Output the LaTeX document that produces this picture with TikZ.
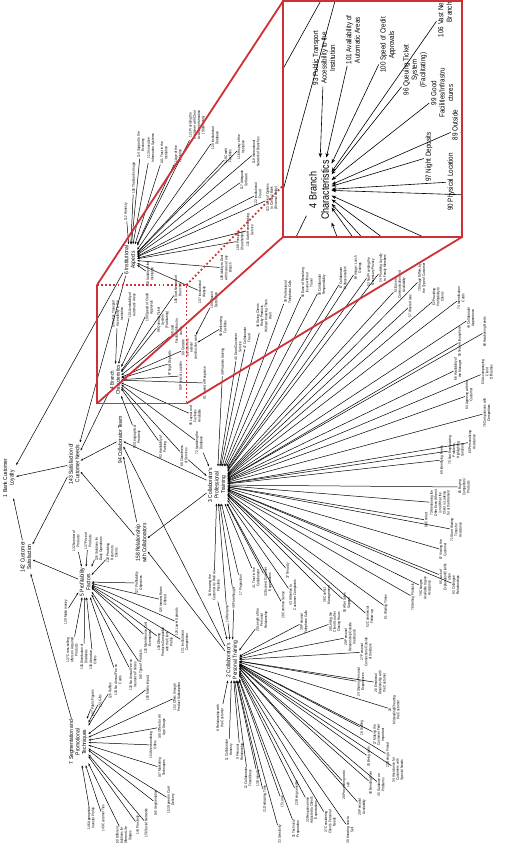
\documentclass[tikz,border=0pt]{standalone}
\usepackage{fontspec}
\setmainfont{Liberation Sans}[FakeStretch=0.85]
\usetikzlibrary{arrows.meta}
\definecolor{zoomred}{RGB}{206,48,54}
\newcommand\lfnt{\fontsize{3.7}{4.2}\selectfont}
\newcommand\hfnt{\fontsize{5.8}{6.5}\selectfont}
\newcommand\hfntb{\fontsize{5.3}{6.1}\selectfont}
\def\arrlen{2.6pt}\def\arrwid{1.9pt}
\tikzset{
 leaf/.style={rotate=90, align=center, font=\lfnt, inner sep=0.5pt},
 hub/.style={rotate=90, align=center, font=\hfnt, inner sep=1pt},
 arr/.style={-{Stealth[length=\arrlen,width=\arrwid]}, black},
 redline/.style={draw=zoomred, line width=1.8pt},
 reddot/.style={draw=zoomred, line width=1.8pt, dash pattern=on 1.8pt off 2.3pt},
}
\newcommand\leafto[5]{\node[leaf] (#1) at (#2,#3) {#4}; \draw[arr] (#1) -- (#5);}
\newcommand\leaftwo[6]{\node[leaf] (#1) at (#2,#3) {#4}; \draw[arr] (#1) -- (#5); \draw[arr] (#1) -- (#6);}
\newcommand\fulldiagram{%
\node[hub] (h1) at (9,478) {1 Bank Customer\\Loyalty};
\node[hub] (h142) at (26,557) {142 Customer\\Satisfaction};
\node[hub] (h143) at (74,464) {143 Satisfaction of\\Customer Needs};
\node[hub] (h94) at (120,440) {94 Collaborator Team};
\node[hub, font=\hfntb] (h4) at (115,380) {4 Branch\\Characteristics};
\node[hub] (h3) at (217,485) {3 Collaborator's\\Professional\\Training};
\node[hub] (h158) at (141,543) {158 Relationship\\with Collaborators};
\node[hub] (h5) at (85,582) {5 Profitability\\Factors};
\node[hub] (h7) at (78,742) {7 Segmentation and\\Promotional\\Techniques};
\node[hub] (h2) at (232,660) {2 Collaborator's\\Personal Training};
\node[hub] (h6) at (130,260) {6 Institutional\\Aspects};
\draw[arr] (h142) -- (h1);
\draw[arr] (h143) -- (h1);
\draw[arr] (h143) -- (h142);
\draw[arr] (h4) -- (h143);
\draw[arr] (h94) -- (h143);
\draw[arr] (h158) -- (h143);
\draw[arr] (h6) -- (h143);
\draw[arr] (h6) -- (h1);
\draw[arr] (h3) -- (h94);
\draw[arr] (h3) -- (h158);
\draw[arr] (h158) -- (h94);
\draw[arr] (h2) -- (h94);
\draw[arr] (h2) -- (h158);
\draw[arr] (h5) -- (h142);
\draw[arr] (h7) -- (h142);
% institutional aspects
\leafto{l112}{126}{212}{112 Honesty}{h6}
\leafto{l105}{134}{178}{105 The Bank's Image}{h6}
\leafto{l114}{141}{145}{114 Support to the\\Economy}{h6}
\leafto{l113}{151}{148}{113 Innovative\\Information Systems}{h6}
\leafto{l141}{164}{153}{141 Trust in the\\Institution}{h6}
\leafto{l111}{178}{156}{111 Age of the\\Institution}{h6}
\leafto{l121}{197}{125}{121 Providing the\\Customer with Clear\\Accurate Information\\(Statements)}{h6}
\leafto{l120}{215}{138}{120 Institutional\\Database}{h6}
\leafto{l119}{228}{156}{119 Credit\\Facilities}{h6}
\leafto{l116}{241}{147}{116 History of the\\Institution}{h6}
\leafto{l117}{244}{180}{117 Adequate\\Software}{h6}
\leafto{l118}{256}{152}{118 International\\Network of Branches}{h6}
\leafto{l122}{258}{194}{122 Institutional\\Fraud}{h6}
\leafto{l123}{272}{198}{123 Lack of Options\\to Contact Bank\\(External Entity)}{h6}
\leafto{l115}{250}{230}{115 Safe Homebanking\\Service}{h6}
\leafto{l108}{240}{241}{108 Principal\\Shareholders}{h6}
\leafto{l109}{226}{268}{109 Ability to Deal\\with Issues at any\\Branch}{h6}
\leafto{l107}{202}{292}{107 Institutional\\Website}{h6}
\leafto{l110}{150}{274}{110 Solidity of the\\Institution}{h6}
% branch characteristics
\leafto{l93}{117.5}{314}{93 Public Transport\\Accessibility to the\\Institution}{h4}
\leafto{l101}{132}{305}{101 Availability of\\Automatic Areas}{h4}
\leafto{l100}{149.5}{307.5}{100 Speed of Credit\\Approvals}{h4}
\leafto{l96}{163}{320}{96 Queuing Ticket\\System\\(Facilitating)}{h4}
\leafto{l99}{176.5}{331.5}{99 Good\\Facilities/Infrastru\\ctures}{h4}
\leafto{l106}{178}{289.5}{106 Vast Network of\\Branches}{h4}
\leafto{l97}{170}{363.5}{97 Night Deposits}{h4}
\leafto{l89}{189.3}{347.5}{89 Outside\\environment,\\exterior\\construction work}{h4}
\leafto{l90}{181}{376}{90 Physical Location}{h4}
\leafto{l91}{205}{383}{91 Speed of Response}{h4}
\leafto{l95}{195}{416}{95 Layout and\\Facilities\\Available}{h4}
\leaftwo{l72}{199}{443}{72 Updating the\\Database}{h4}{h3}
\leaftwo{l88}{184}{456}{88 Cleanliness\\of Services}{h4}{h3}
\leafto{l82}{163}{447}{82 Availability of\\Parking}{h4}
\leafto{l92}{137}{437}{92 Geographical\\Proximity}{h4}
\leafto{l98}{223}{327}{98 Welcoming\\Facilities}{l89}
\leafto{l104}{214}{300}{104 Branch\\Decoration}{l89}
% professional training
\leafto{l49}{223}{362}{49 Problem Solving}{h3}
\leafto{l45}{238}{347}{45 Good Customer\\Service}{h3}
\leafto{l47}{247}{338}{47 Collaborator\\Fraud}{h3}
\leafto{l46}{264}{316}{46 Giving Clients\\Risky Products\\Without Knowing Them\\Well}{h3}
\leafto{l59}{288}{292}{59 Professional\\Telephone Calls}{h3}
\leafto{l56}{307}{283}{56 Ease of Resolving\\Issues without\\Travel}{h3}
\leafto{l58}{322}{285}{58 Collaborator\\Responsibility}{h3}
\leafto{l67}{343}{278}{67 Collaborator\\Professionalism}{h3}
\leafto{l64}{358}{268}{64 Image: Lunch\\Outings}{h3}
\leafto{l53}{371}{272}{53 Not Providing the\\Necessary Privacy}{h3}
\leafto{l54}{383}{268}{54 Providing Loyalty\\to Family Members}{h3}
\leafto{l61}{400}{285}{61 Ease of\\Communication and\\Availability}{h3}
\leafto{l57}{410}{306}{57 Waste Areas}{h3}
\leafto{l70}{422}{278}{70 Image Differs by\\the Type of Customer}{h3}
\leafto{l62}{438}{297}{62 Providing\\Profitability to\\Clients}{h3}
\leafto{l74}{461}{298}{74 Identification\\Cards}{h3}
\leafto{l44}{471}{318}{44 Collaborator\\Appearance}{h3}
\leafto{l55}{460}{342}{55 Team Atmosphere}{h3}
\leafto{l68}{485}{332}{68 Awakening Needs}{h3}
\leafto{l66}{458}{369}{66 Availability of\\the Manager}{h3}
\leafto{l63}{487}{372}{63 Accompanying\\Client\\Difficulties}{h3}
\leafto{l84}{469}{395}{84 Agreeing with the\\Customer}{h3}
\leafto{l76}{487}{413}{76 Comparisons with\\Competitors}{h3}
\leafto{l60}{472}{442}{60 Personalizing\\Assistance}{h3}
\leafto{l75}{456}{450}{75 Not Emphasizing\\Problems,\\Highlighting\\Solutions}{h3}
\leafto{l69}{442}{460}{69 Identifying Needs}{h3}
\leafto{l65}{464}{487}{65 Buying\\Competitors'\\Products}{h3}
\leafto{l73}{440}{503}{73 Mentioning the\\Offer Even When it\\is not What the\\Client is Looking\\for at the Moment}{h3}
\leafto{l80}{426}{520}{80 Contact}{h3}
\leafto{l71}{456}{530}{71 Short Waiting\\Times for\\Assistance}{h3}
\leafto{l87}{443}{550}{87 Visiting the\\Customer}{h3}
\leafto{l85}{445}{577}{85 Lack of\\Explanation/Clarific\\ation}{h3}
\leafto{l83}{456}{585}{83 Colleague\\Relationships}{h3}
\leafto{l79}{425}{588}{79 Changes\\Available to give\\Assistance}{h3}
\leafto{l78}{413}{597}{78 Selling Products}{h3}
\leafto{l81}{386}{607}{81 Waiting Times}{h3}
\leafto{l52}{370}{617}{52 Commercial\\Follow-up}{h3}
\leafto{l50}{347}{603}{50 After Sales\\Support}{h3}
\leafto{l36}{327}{595}{36 Conflict\\Management}{h3}
\leafto{l43}{293}{595}{43 Attention to\\Customer Complaints}{h3}
\leafto{l28}{283}{605}{28 Common Sense}{h3}
\leafto{l37}{288}{571}{37 Tenacity}{h3}
\leafto{l42}{268}{582}{42 Exceed Customer\\Expectations}{h3}
\leafto{l41}{256}{578}{41 Trust in the\\Collaborator}{h3}
\leafto{l17}{241}{585}{17 Proposition}{h3}
\leaftwo{l40}{234}{598}{40 Forethought}{h3}{h2}
\leaftwo{l10}{214}{586}{10 Knowing the\\Customer As Well As\\Possible}{h3}{h2}
\leaftwo{l14}{227}{614}{14 Welcome}{h3}{h2}
% personal training
\leafto{l20}{262}{620}{20 Length of the\\Personal\\Relationship}{h2}
\leafto{l39}{304}{622}{39 Personal\\Telephone Calls}{h2}
\leafto{l38}{335}{622}{38 Letting the\\Client Go after\\Closing Hours}{h2}
\leafto{l29}{350}{637}{29 Personal\\Relationship Outside\\the Branch}{h2}
\leafto{l27b}{366}{652}{27 Personal\\Connections Outside\\of the Bank}{h2}
\leafto{l24}{361}{682}{24 Sharing Personal\\Experiences}{h2}
\leafto{l26}{380}{683}{26 Emotional\\Relationship with\\the Customer}{h2}
\leafto{l18}{394}{710}{18\\Misleading/Cheating\\the Customer}{h2}
\leafto{l16}{362}{728}{16 Smiling}{h2}
\leafto{l27}{379}{735}{27 Making the\\Customer Feel\\Important}{h2}
\leafto{l19}{369}{757}{19 Being calm}{h2}
\leafto{l23}{388}{755}{23 Being a Friend}{h2}
\leafto{l34}{398}{770}{34 Assistance for\\Customers with\\Special Needs}{h2}
\leafto{l40b}{371}{783}{40 Bending Over}{h2}
\leafto{l35}{381}{785}{35 Guidance on\\Problems}{h2}
\leafto{l26b}{346}{785}{26 Proceeding not to\\sell}{h2}
\leafto{l28b}{362}{807}{28 Personal\\Availability}{h2}
\leafto{l30}{350}{830}{30 Knowing how to\\Sell}{h2}
\leafto{l37b}{330}{822}{37 Considering\\Client's Personal\\Needs}{h2}
\leafto{l32}{312}{810}{32 Response time\\Adjusted to Client's\\Expectations}{h2}
\leafto{l22}{297}{793}{22 Being sensible}{h2}
\leafto{l31}{296}{829}{31 Technical\\Preparation}{h2}
\leafto{l15}{282}{802}{15 Look}{h2}
\leafto{l33}{280}{834}{33 Sensitivity}{h2}
\leafto{l21}{265}{799}{21 Dedicating Time}{h2}
\leafto{l13}{258}{778}{13 Empathy}{h2}
\leafto{l12}{248}{778}{12 Collaborator\\Friendliness}{h2}
\leafto{l9}{240}{752}{9 Personal\\Relationship}{h2}
\leafto{l11}{229}{750}{11 Collaborator\\Honesty}{h2}
\leafto{l8}{220}{718}{8 Relationship with\\the Customer}{h2}
% profitability
\leafto{l129}{66}{612}{129 Make money}{h5}
\leafto{l137}{72}{650}{137 Cross-selling\\offers on Acquired\\Products}{h5}
\leafto{l130}{84}{657}{130 Distribution of\\Dividends}{h5}
\leafto{l138}{93}{660}{138 Attractive\\Offers}{h5}
\leafto{l134}{118}{680}{134 No Annual Fee on\\Cards}{h5}
\leafto{l133}{133}{675}{133 No Annual Fee on\\Insurance Policies}{h5}
\leafto{l140}{141}{665}{140 Type of Products}{h5}
\leafto{l125}{148}{638}{125 Maintenance Cost\\Exemptions}{h5}
\leafto{l139}{165}{642}{139 Offering\\Products Compatible\\with the Client\\Profile}{h5}
\leafto{l124}{177}{622}{124 Lower Spreads}{h5}
\leafto{l131}{185}{642}{131 Institutional\\Competition}{h5}
\leafto{l135}{163}{600}{135 Interest Rates\\Offered}{h5}
\leafto{l127}{139}{583}{127 Profitability\\Objectives}{h5}
\leafto{l132}{76}{541}{132 Number of\\Products}{h5}
\leafto{l137p}{88}{541}{137 Price of\\Products}{h5}
\leafto{l136}{99}{549}{136 Solutions for\\Daily Operations}{h5}
\leafto{l128}{112}{553}{128 Providing\\Returns to\\Clients}{h5}
% segmentation
\leafto{l157}{93}{703}{157 Public Figures}{h7}
\leafto{l151}{100}{701}{151 Gifts}{h7}
\leafto{l126}{110}{691}{126 Raffles}{h7}
\leafto{l155}{148}{688}{155 Media Impact}{h7}
\leafto{l152}{177}{697}{152 Offers through\\Product Subscription}{h7}
\leafto{l148}{162}{727}{148 Offers for All\\Age Groups}{h7}
\leafto{l154}{153}{745}{154 Merchandising\\Offers}{h7}
\leafto{l147}{162}{768}{147 Marketing\\Techniques}{h7}
\leafto{l153}{171}{800}{153 Speed in Card\\Delivery}{h7}
\leafto{l145}{156}{803}{145 Segmentation}{h7}
\leafto{l156}{146}{823}{156 Social Networks}{h7}
\leafto{l144}{138}{825}{144 Proximity}{h7}
\leafto{l150}{124}{836}{150 Different\\Solutions for\\Different Life\\Stages}{h7}
\leafto{l149}{103}{818}{149 Customer Ties}{h7}
\leafto{l146}{91}{818}{146 Appropriate\\Investor Profile}{h7}
}
\begin{document}
\begin{tikzpicture}[x=1pt,y=-1pt,line width=0.5pt]
\useasboundingbox (0,0) rectangle (506,843);
\fulldiagram
\coordinate (sTL) at (97,285);
\coordinate (sTR) at (186.5,285);
\coordinate (sBL) at (97,403.5);
\coordinate (sBR) at (186.5,403.5);
\coordinate (bTL) at (283,1.2);
\coordinate (bTR) at (462,1.2);
\coordinate (bBL) at (283,237);
\coordinate (bBR) at (462,237);
\draw[redline] (sTL) -- (sBL) -- (sBR);
\draw[reddot] (sTL) -- (sTR) -- (sBR);
\draw[redline] (sTL) -- (bTL);
\draw[redline] (sBL) -- (bBL);
\draw[redline] (sBR) -- (bBR);
\draw[reddot] (sTR) -- (bTR);
\begin{scope}
\clip (bTL) rectangle (bBR);
\fill[white] (bTL) rectangle (bBR);
\begin{scope}[shift={(89,-570)},scale=2,transform shape,line width=0.6pt]
\def\arrlen{4.6pt}\def\arrwid{3.5pt}
\fulldiagram
\end{scope}
\end{scope}
\draw[draw=zoomred, line width=2.3pt] (bTL) rectangle (bBR);
\end{tikzpicture}
\end{document}
